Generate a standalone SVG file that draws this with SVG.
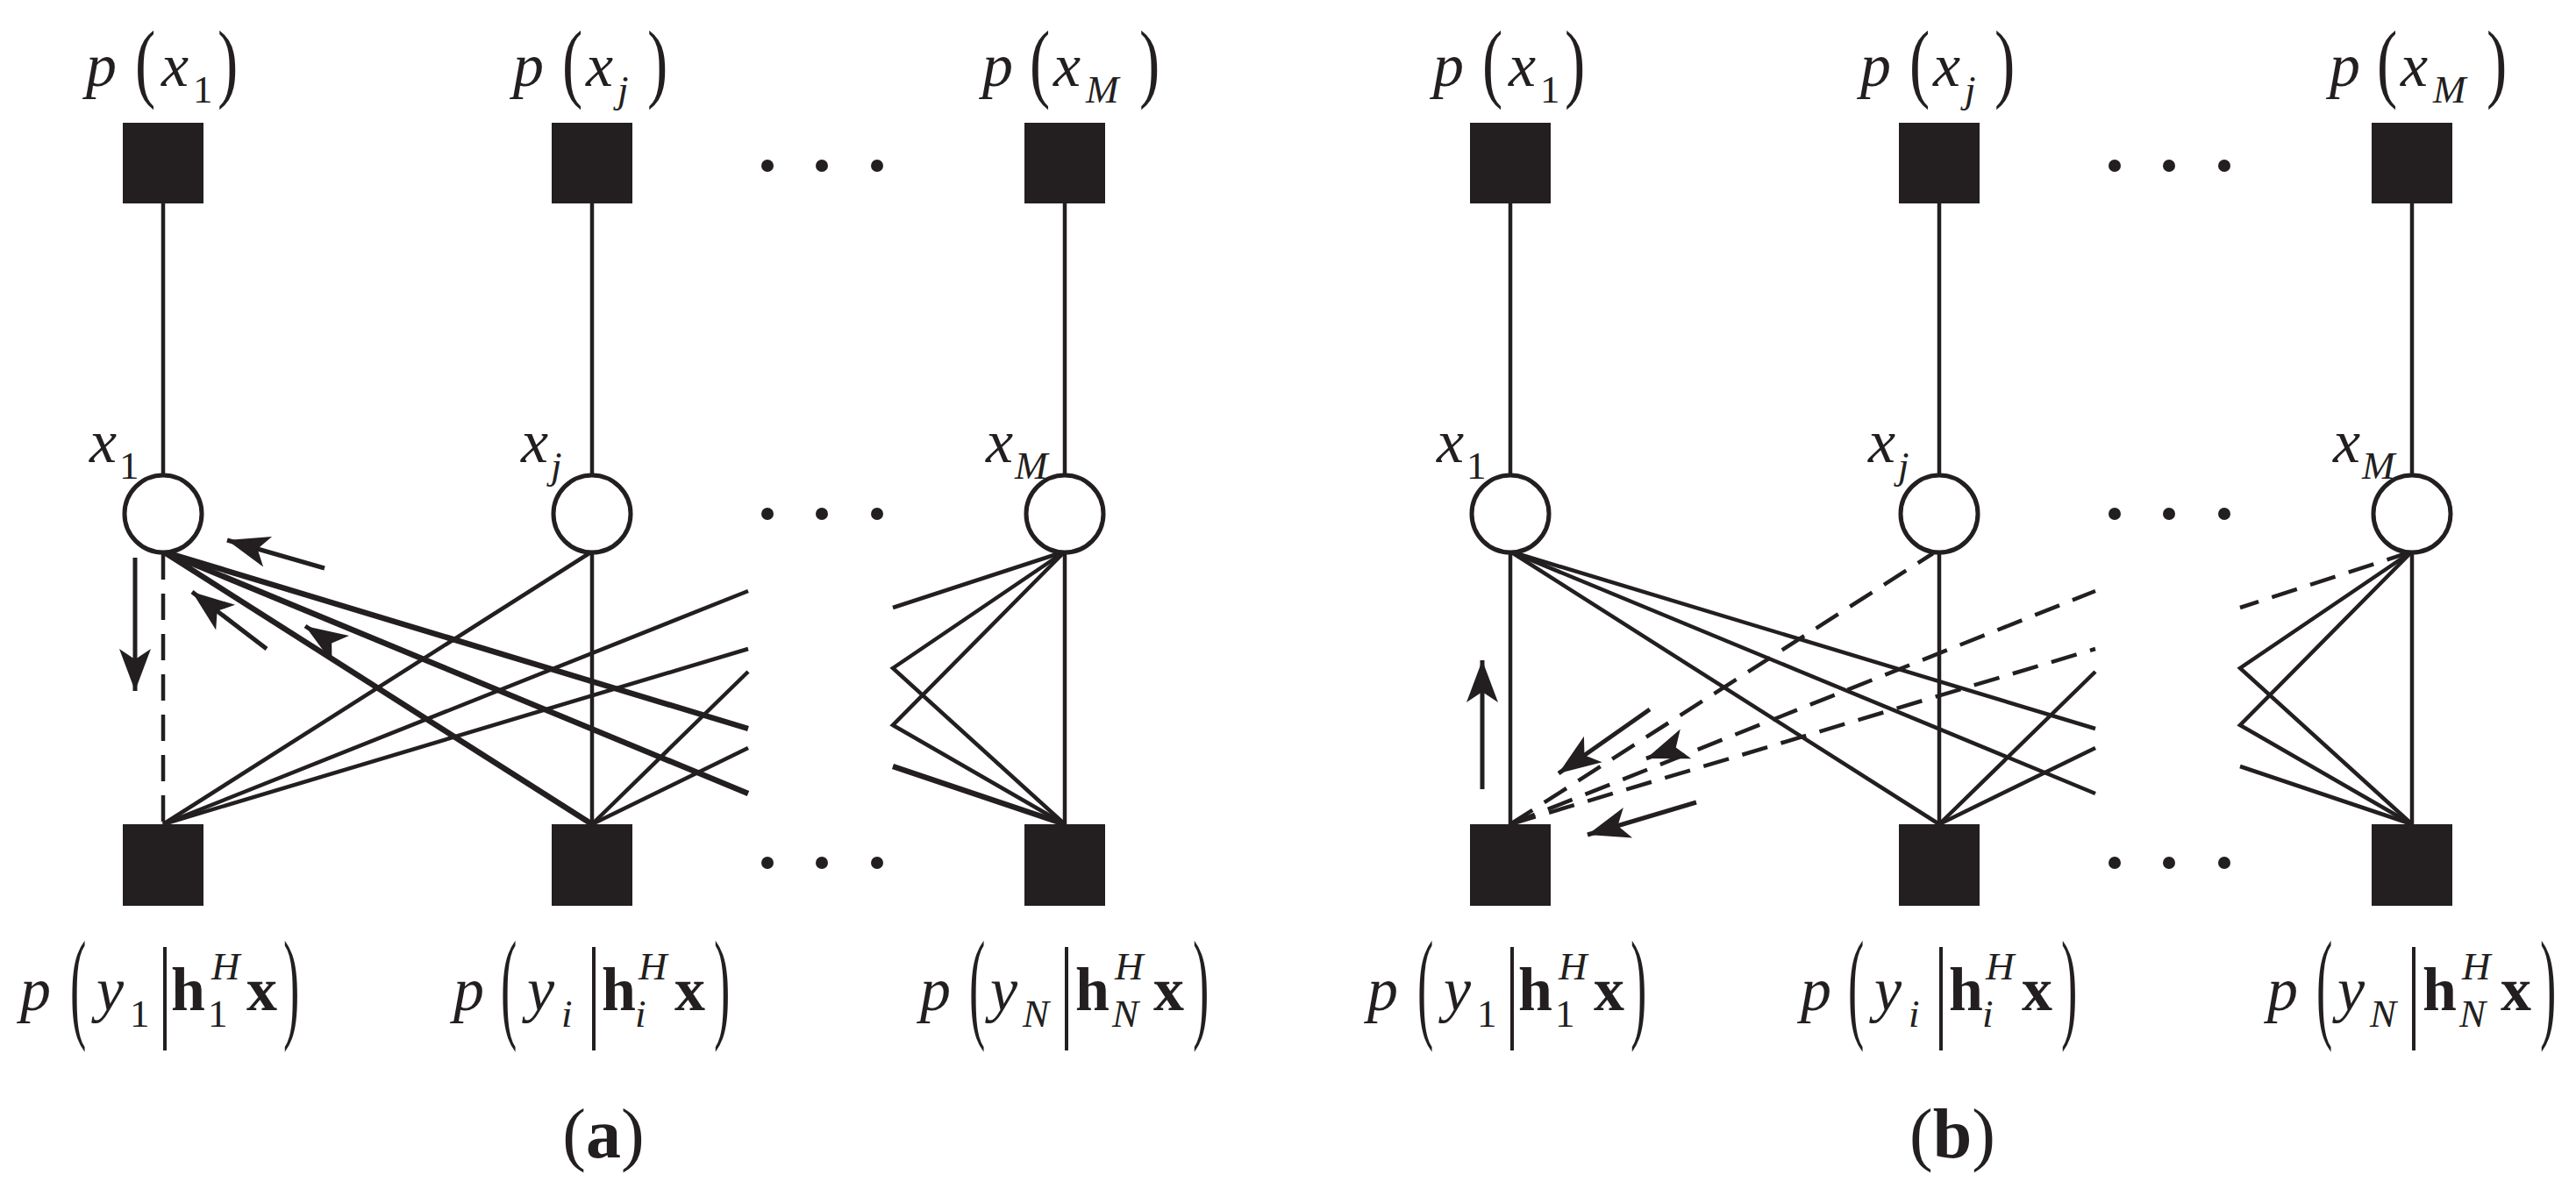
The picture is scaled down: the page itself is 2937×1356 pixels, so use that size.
<svg xmlns="http://www.w3.org/2000/svg" width="2937" height="1356" viewBox="0 0 2937 1356">
<style>
.sq{fill:#231f20}
.ci{fill:#fff;stroke:#231f20;stroke-width:5}
.e{stroke:#231f20;stroke-width:4.5;fill:none}
.h{stroke:#231f20;stroke-width:6.5;fill:none}
.d{stroke-dasharray:30 16}
.ar{stroke:#231f20;stroke-width:5;fill:none;marker-end:url(#ah)}
.dot{fill:#231f20}
text{font-family:"Liberation Serif","Times New Roman",serif;fill:#231f20}
.m{font-size:70px;font-style:italic}
.s{font-size:45px;font-style:italic}
.su{font-size:45px}
.b{font-size:70px;font-weight:bold}
.pt{font-size:100px}
.pb{font-size:100px}
.cap{font-size:80px}
</style>
<defs>
<marker id="ah" markerUnits="userSpaceOnUse" viewBox="-50 -20 55 40" refX="0" refY="0" markerWidth="55" markerHeight="40" orient="auto">
<path d="M0,0 L-48,-18 L-36,0 L-48,18 Z" fill="#231f20"/>
</marker>
</defs>
<rect width="2937" height="1356" fill="#fff"/>

<g id="panel-a">
<g id="connectors-a">
<line class="e" x1="186" y1="232" x2="186" y2="541"/>
<line class="e" x1="675" y1="232" x2="675" y2="541"/>
<line class="e" x1="1214" y1="232" x2="1214" y2="541"/>
<line class="e d" x1="186" y1="631" x2="186" y2="940"/>
<line class="e" x1="675" y1="631" x2="675" y2="940"/>
<line class="e" x1="1214" y1="631" x2="1214" y2="940"/>
<line class="e" x1="186" y1="940" x2="675" y2="629"/>
<line class="e" x1="186" y1="940" x2="853" y2="674"/>
<line class="e" x1="186" y1="940" x2="853" y2="740"/>
<line class="h" x1="186" y1="629" x2="675" y2="940"/>
<line class="h" x1="186" y1="629" x2="853" y2="831"/>
<line class="h" x1="186" y1="629" x2="853" y2="905"/>
<line class="e" x1="675" y1="940" x2="853" y2="766"/>
<line class="e" x1="675" y1="940" x2="853" y2="853"/>
<line class="e" x1="1214" y1="629" x2="1018" y2="693"/>
<polyline class="e" points="1214,629 1018,762 1214,940"/>
<polyline class="e" points="1214,629 1018,827 1214,940"/>
<line class="h" x1="1214" y1="940" x2="1018" y2="874"/>
<line class="ar" x1="370" y1="648" x2="259" y2="616"/>
<line class="ar" x1="304" y1="740" x2="219" y2="675"/>
<line class="ar" x1="368" y1="727" x2="348" y2="714"/>
<line class="ar" x1="154" y1="636" x2="154" y2="788"/>
</g>
<g id="a-fx1"><rect class="sq" x="140" y="140" width="92" height="92"/>
<text class="m" x="98" y="98">p</text><text class="pt" transform="translate(154,104) scale(0.7,1)">(</text><text class="m" x="184" y="98">x</text><text class="su" x="220" y="117">1</text><text class="pt" transform="translate(248,104) scale(0.7,1)">)</text></g>
<g id="a-fxj"><rect class="sq" x="629" y="140" width="92" height="92"/>
<text class="m" x="585" y="98">p</text><text class="pt" transform="translate(641,104) scale(0.7,1)">(</text><text class="m" x="668" y="98">x</text><text class="s" x="704" y="117">j</text><text class="pt" transform="translate(738,104) scale(0.7,1)">)</text></g>
<g id="a-fxM"><rect class="sq" x="1168" y="140" width="92" height="92"/>
<text class="m" x="1120" y="98">p</text><text class="pt" transform="translate(1174,104) scale(0.7,1)">(</text><text class="m" x="1201" y="98">x</text><text class="s" x="1238" y="117">M</text><text class="pt" transform="translate(1299,104) scale(0.7,1)">)</text></g>
<g id="a-x1"><circle class="ci" cx="186" cy="586" r="44"/><text class="m" x="102" y="527">x</text><text class="su" x="136" y="546">1</text></g>
<g id="a-xj"><circle class="ci" cx="675" cy="586" r="44"/><text class="m" x="594" y="527">x</text><text class="s" x="628" y="546">j</text></g>
<g id="a-xM"><circle class="ci" cx="1214" cy="586" r="44"/><text class="m" x="1124" y="527">x</text><text class="s" x="1157" y="546">M</text></g>
<g id="a-fy1"><rect class="sq" x="140" y="940" width="92" height="93"/>
<text class="m" x="23" y="1152">p</text><text class="pb" transform="translate(80,1170) scale(0.55,1.4)">(</text><text class="m" x="110" y="1152">y</text><text class="su" x="148" y="1171">1</text><text class="pb" transform="translate(180,1170) scale(0.8,1.3)">|</text><text class="b" x="195" y="1152">h</text><text class="s" x="241" y="1117">H</text><text class="su" x="237" y="1171">1</text><text class="b" x="281" y="1152">x</text><text class="pb" transform="translate(323,1170) scale(0.55,1.4)">)</text></g>
<g id="a-fyi"><rect class="sq" x="629" y="940" width="92" height="93"/>
<text class="m" x="517" y="1152">p</text><text class="pb" transform="translate(571,1170) scale(0.55,1.4)">(</text><text class="m" x="601" y="1152">y</text><text class="s" x="640" y="1171">i</text><text class="pb" transform="translate(669,1170) scale(0.8,1.3)">|</text><text class="b" x="686" y="1152">h</text><text class="s" x="728" y="1117">H</text><text class="s" x="724" y="1171">i</text><text class="b" x="769" y="1152">x</text><text class="pb" transform="translate(814,1170) scale(0.55,1.4)">)</text></g>
<g id="a-fyN"><rect class="sq" x="1168" y="940" width="92" height="93"/>
<text class="m" x="1049" y="1152">p</text><text class="pb" transform="translate(1105,1170) scale(0.55,1.4)">(</text><text class="m" x="1129" y="1152">y</text><text class="s" x="1166" y="1171">N</text><text class="pb" transform="translate(1208,1170) scale(0.8,1.3)">|</text><text class="b" x="1226" y="1152">h</text><text class="s" x="1271" y="1117">H</text><text class="s" x="1268" y="1171">N</text><text class="b" x="1315" y="1152">x</text><text class="pb" transform="translate(1360,1170) scale(0.55,1.4)">)</text></g>
<g id="a-dots" class="dot">
<circle cx="875" cy="189" r="7"/><circle cx="937" cy="189" r="7"/><circle cx="1000" cy="189" r="7"/>
<circle cx="875" cy="586" r="7"/><circle cx="937" cy="586" r="7"/><circle cx="1000" cy="586" r="7"/>
<circle cx="875" cy="984" r="7"/><circle cx="937" cy="984" r="7"/><circle cx="1000" cy="984" r="7"/>
</g>
<text class="cap" x="688" y="1320" text-anchor="middle">(<tspan font-weight="bold">a</tspan>)</text>
</g>

<g id="panel-b" transform="translate(1536,0)">
<g id="connectors-b">
<line class="e" x1="186" y1="232" x2="186" y2="541"/>
<line class="e" x1="675" y1="232" x2="675" y2="541"/>
<line class="e" x1="1214" y1="232" x2="1214" y2="541"/>
<line class="e" x1="186" y1="631" x2="186" y2="940"/>
<line class="e" x1="675" y1="631" x2="675" y2="940"/>
<line class="e" x1="1214" y1="631" x2="1214" y2="940"/>
<line class="e d" x1="186" y1="940" x2="668" y2="631"/>
<line class="e d" x1="186" y1="940" x2="853" y2="674"/>
<line class="e d" x1="186" y1="940" x2="853" y2="740"/>
<line class="e" x1="186" y1="629" x2="675" y2="940"/>
<line class="e" x1="186" y1="629" x2="853" y2="831"/>
<line class="e" x1="186" y1="629" x2="853" y2="905"/>
<line class="e" x1="675" y1="940" x2="853" y2="766"/>
<line class="e" x1="675" y1="940" x2="853" y2="853"/>
<line class="e d" x1="1214" y1="629" x2="1018" y2="693"/>
<polyline class="e" points="1214,629 1018,762 1214,940"/>
<polyline class="e" points="1214,629 1018,827 1214,940"/>
<line class="e" x1="1214" y1="940" x2="1018" y2="874"/>
<line class="ar" x1="154" y1="900" x2="154" y2="753"/>
<line class="ar" x1="345" y1="809" x2="241" y2="882"/>
<line class="ar" x1="398" y1="915" x2="274" y2="952"/>
<line class="ar" x1="360" y1="858" x2="341" y2="865"/>
</g>
<g id="b-fx1"><rect class="sq" x="140" y="140" width="92" height="92"/>
<text class="m" x="98" y="98">p</text><text class="pt" transform="translate(154,104) scale(0.7,1)">(</text><text class="m" x="184" y="98">x</text><text class="su" x="220" y="117">1</text><text class="pt" transform="translate(248,104) scale(0.7,1)">)</text></g>
<g id="b-fxj"><rect class="sq" x="629" y="140" width="92" height="92"/>
<text class="m" x="585" y="98">p</text><text class="pt" transform="translate(641,104) scale(0.7,1)">(</text><text class="m" x="668" y="98">x</text><text class="s" x="704" y="117">j</text><text class="pt" transform="translate(738,104) scale(0.7,1)">)</text></g>
<g id="b-fxM"><rect class="sq" x="1168" y="140" width="92" height="92"/>
<text class="m" x="1120" y="98">p</text><text class="pt" transform="translate(1174,104) scale(0.7,1)">(</text><text class="m" x="1201" y="98">x</text><text class="s" x="1238" y="117">M</text><text class="pt" transform="translate(1299,104) scale(0.7,1)">)</text></g>
<g id="b-x1"><circle class="ci" cx="186" cy="586" r="44"/><text class="m" x="102" y="527">x</text><text class="su" x="136" y="546">1</text></g>
<g id="b-xj"><circle class="ci" cx="675" cy="586" r="44"/><text class="m" x="594" y="527">x</text><text class="s" x="628" y="546">j</text></g>
<g id="b-xM"><circle class="ci" cx="1214" cy="586" r="44"/><text class="m" x="1124" y="527">x</text><text class="s" x="1157" y="546">M</text></g>
<g id="b-fy1"><rect class="sq" x="140" y="940" width="92" height="93"/>
<text class="m" x="23" y="1152">p</text><text class="pb" transform="translate(80,1170) scale(0.55,1.4)">(</text><text class="m" x="110" y="1152">y</text><text class="su" x="148" y="1171">1</text><text class="pb" transform="translate(180,1170) scale(0.8,1.3)">|</text><text class="b" x="195" y="1152">h</text><text class="s" x="241" y="1117">H</text><text class="su" x="237" y="1171">1</text><text class="b" x="281" y="1152">x</text><text class="pb" transform="translate(323,1170) scale(0.55,1.4)">)</text></g>
<g id="b-fyi"><rect class="sq" x="629" y="940" width="92" height="93"/>
<text class="m" x="517" y="1152">p</text><text class="pb" transform="translate(571,1170) scale(0.55,1.4)">(</text><text class="m" x="601" y="1152">y</text><text class="s" x="640" y="1171">i</text><text class="pb" transform="translate(669,1170) scale(0.8,1.3)">|</text><text class="b" x="686" y="1152">h</text><text class="s" x="728" y="1117">H</text><text class="s" x="724" y="1171">i</text><text class="b" x="769" y="1152">x</text><text class="pb" transform="translate(814,1170) scale(0.55,1.4)">)</text></g>
<g id="b-fyN"><rect class="sq" x="1168" y="940" width="92" height="93"/>
<text class="m" x="1049" y="1152">p</text><text class="pb" transform="translate(1105,1170) scale(0.55,1.4)">(</text><text class="m" x="1129" y="1152">y</text><text class="s" x="1166" y="1171">N</text><text class="pb" transform="translate(1208,1170) scale(0.8,1.3)">|</text><text class="b" x="1226" y="1152">h</text><text class="s" x="1271" y="1117">H</text><text class="s" x="1268" y="1171">N</text><text class="b" x="1315" y="1152">x</text><text class="pb" transform="translate(1360,1170) scale(0.55,1.4)">)</text></g>
<g id="b-dots" class="dot">
<circle cx="875" cy="189" r="7"/><circle cx="937" cy="189" r="7"/><circle cx="1000" cy="189" r="7"/>
<circle cx="875" cy="586" r="7"/><circle cx="937" cy="586" r="7"/><circle cx="1000" cy="586" r="7"/>
<circle cx="875" cy="984" r="7"/><circle cx="937" cy="984" r="7"/><circle cx="1000" cy="984" r="7"/>
</g>
<text class="cap" x="690" y="1320" text-anchor="middle">(<tspan font-weight="bold">b</tspan>)</text>
</g>
</svg>
